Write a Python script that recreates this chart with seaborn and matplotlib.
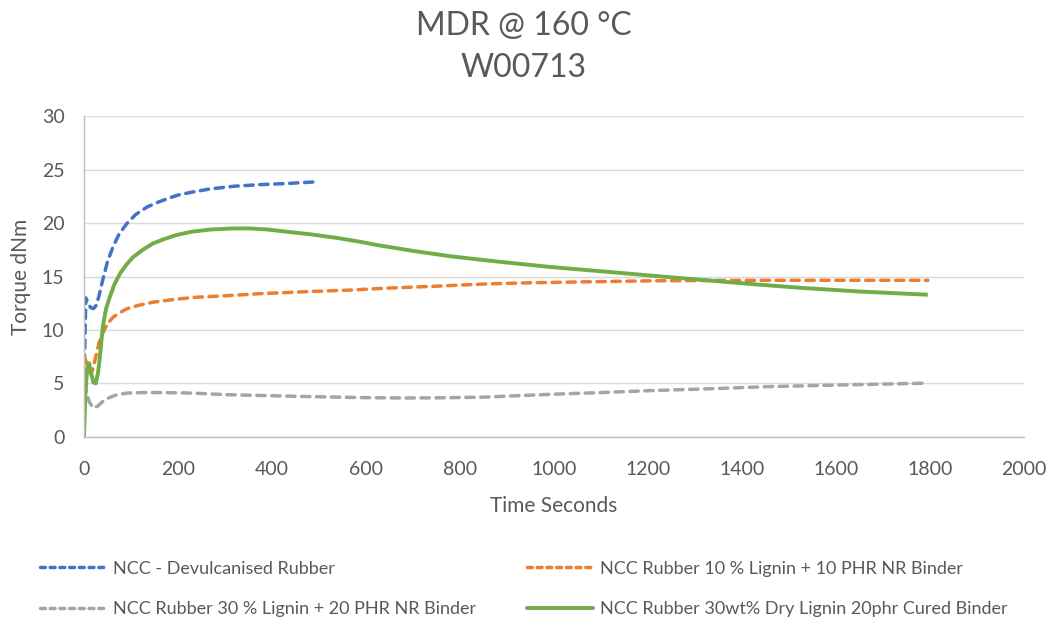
import matplotlib
matplotlib.use("Agg")
import matplotlib.pyplot as plt
import seaborn as sns
import pandas as pd
from matplotlib.lines import Line2D

# MDR cure curves at 160 °C, sample W00713
t_devulc = [0, 2, 4, 8, 14, 20, 26, 32, 40, 50, 62, 75, 92, 110, 134, 160, 198, 230, 269, 320, 375, 430, 490]
y_devulc = [5.5, 9.0, 13.0, 12.6, 12.1, 12.0, 12.3, 13.2, 14.7, 16.4, 17.8, 19.0, 20.0, 20.8, 21.5, 22.0, 22.6, 22.9, 23.2, 23.45, 23.6, 23.7, 23.85]

t_lig10 = [0, 5, 12, 18, 25, 32, 40, 50, 62, 75, 92, 115, 147, 190, 233, 300, 375, 480, 574, 636, 750, 849, 950, 1062, 1204, 1400, 1600, 1795]
y_lig10 = [7.6, 7.0, 6.0, 6.2, 7.5, 8.8, 9.7, 10.6, 11.2, 11.6, 12.0, 12.3, 12.6, 12.85, 13.05, 13.2, 13.4, 13.6, 13.75, 13.9, 14.1, 14.3, 14.42, 14.5, 14.6, 14.65, 14.65, 14.65]

t_lig30 = [0, 5, 12, 20, 30, 42, 55, 70, 92, 125, 160, 230, 305, 450, 590, 680, 760, 849, 920, 1000, 1100, 1204, 1330, 1452, 1600, 1785]
y_lig30 = [5.0, 4.2, 3.2, 2.7, 2.9, 3.4, 3.7, 3.95, 4.1, 4.15, 4.15, 4.1, 3.95, 3.8, 3.68, 3.64, 3.66, 3.72, 3.85, 4.0, 4.15, 4.33, 4.5, 4.7, 4.85, 5.02]

t_dry = [0, 3, 7, 11, 15, 20, 25, 30, 35, 40, 47, 55, 65, 77, 90, 104, 125, 147, 170, 198, 230, 269, 318, 353, 390, 430, 482, 540, 588, 623, 700, 779, 880, 991, 1098, 1204, 1311, 1420, 1523, 1650, 1795]
y_dry = [0.0, 4.0, 6.5, 6.9, 6.0, 5.1, 5.0, 6.0, 8.0, 10.3, 12.0, 13.1, 14.3, 15.3, 16.1, 16.8, 17.5, 18.1, 18.5, 18.9, 19.2, 19.4, 19.5, 19.5, 19.4, 19.2, 18.95, 18.6, 18.25, 17.95, 17.4, 16.9, 16.4, 15.9, 15.5, 15.1, 14.7, 14.3, 13.95, 13.6, 13.3]

names = [
    "NCC - Devulcanised Rubber",
    "NCC Rubber 10 % Lignin + 10 PHR NR Binder",
    "NCC Rubber 30 % Lignin + 20 PHR NR Binder",
    "NCC Rubber 30wt% Dry Lignin 20phr Cured Binder",
]
colors = ["#4472C4", "#ED7D31", "#A5A5A5", "#70AD47"]
x_ticks = list(range(0, 2001, 200))
y_ticks = list(range(0, 31, 5))

series = [(t_devulc, y_devulc), (t_lig10, y_lig10), (t_lig30, y_lig30), (t_dry, y_dry)]
frames = [pd.DataFrame({"Time": t, "Torque": y, "Series": n}) for (t, y), n in zip(series, names)]

sns.set_theme(style="white")
plt.rcParams["font.family"] = ["Lato", "DejaVu Sans"]
text_color = "#595959"

fig = plt.figure(figsize=(10.47, 6.18), dpi=100)
ax = fig.add_axes([0.0802, 0.293, 0.898, 0.519])

dash = (0, (2.4, 1.9))
for df, c, n in zip(frames, colors, names):
    solid = n.endswith("Cured Binder")
    sns.lineplot(data=df, x="Time", y="Torque", ax=ax, color=c, sort=False,
                 estimator=None, linewidth=2.8 if solid else 2.5,
                 linestyle="-" if solid else dash,
                 dash_capstyle="round", solid_capstyle="butt", legend=False)

ax.set_xlim(0, 2000)
ax.set_ylim(0, 30)
ax.set_xticks(x_ticks)
ax.set_yticks(y_ticks)
ax.yaxis.grid(True, color="#D9D9D9", linewidth=1.0)
ax.xaxis.grid(False)
for s in ["top", "right"]:
    ax.spines[s].set_visible(False)
for s in ["left", "bottom"]:
    ax.spines[s].set_color("#BFBFBF")
    ax.spines[s].set_linewidth(1.0)
ax.tick_params(axis="both", length=0, labelsize=14, labelcolor=text_color)
ax.tick_params(axis="x", pad=17)
ax.tick_params(axis="y", pad=14)
ax.set_xlabel("Time Seconds", fontsize=15, color=text_color, labelpad=13)
ax.set_ylabel("Torque dNm", fontsize=15, color=text_color, labelpad=8)

fig.suptitle("MDR @ 160 °C\nW00713", x=0.5, y=0.982, fontsize=23, color=text_color,
             linespacing=1.5, va="top")


def handle(c, n):
    solid = n.endswith("Cured Binder")
    return Line2D([], [], color=c, linewidth=2.8 if solid else 2.5,
                  linestyle="-" if solid else (0, (1.4, 1.4)),
                  dash_capstyle="round", solid_capstyle="round")


# two legend columns, entries laid out row by row
legend_kw = dict(loc="upper left", frameon=False, fontsize=13, labelcolor=text_color,
                 handlelength=3.7, handletextpad=0.35, labelspacing=1.35,
                 borderaxespad=0, borderpad=0)
fig.legend([handle(colors[0], names[0]), handle(colors[2], names[2])],
           [names[0], names[2]], bbox_to_anchor=(0.038, 0.093), **legend_kw)
fig.legend([handle(colors[1], names[1]), handle(colors[3], names[3])],
           [names[1], names[3]], bbox_to_anchor=(0.503, 0.093), **legend_kw)

fig.savefig("out.png", dpi=100)
